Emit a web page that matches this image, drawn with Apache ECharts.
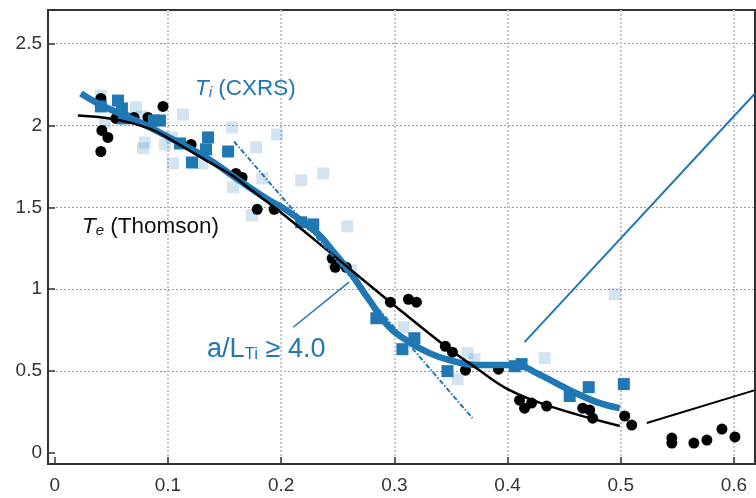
<!DOCTYPE html>
<html>
<head>
<meta charset="utf-8">
<script src="https://cdn.jsdelivr.net/npm/echarts@6/dist/echarts.min.js"></script>
<style>
  html, body { margin: 0; padding: 0; background: #fff; }
  #chart { width: 756px; height: 498px; }
</style>
</head>
<body>
<div id="chart"></div>
<script>
// axis ranges (normalised radius, keV)
const xRange = [-0.006, 0.6186]
const yRange = [-0.067, 2.705]

// Thomson scattering Te points
const teMeas = [
    [0.0407, 2.165], [0.0416, 1.970], [0.0469, 1.927], [0.0407, 1.841],
    [0.054, 2.043], [0.070, 2.049], [0.0823, 2.049], [0.0956, 2.116],
    [0.1204, 1.884], [0.160, 1.707], [0.1655, 1.683], [0.1788, 1.488],
    [0.1938, 1.488], [0.245, 1.189], [0.2478, 1.134], [0.2575, 1.134],
    [0.2965, 0.921], [0.3124, 0.939], [0.3195, 0.921], [0.345, 0.652],
    [0.3513, 0.616], [0.3628, 0.506], [0.392, 0.512], [0.4106, 0.323],
    [0.415, 0.274], [0.4212, 0.305], [0.4345, 0.287], [0.4664, 0.274],
    [0.4726, 0.262], [0.4752, 0.213], [0.5035, 0.226], [0.5097, 0.171],
    [0.5451, 0.091], [0.5451, 0.061], [0.5646, 0.061], [0.5761, 0.079],
    [0.5894, 0.146], [0.6009, 0.098],
]

// CXRS Ti points used in the fit
const tiMeas = [
    [0.0407, 2.116], [0.0558, 2.152], [0.0593, 2.104], [0.0611, 2.043],
    [0.0876, 2.030], [0.0929, 2.030], [0.1106, 1.890], [0.1212, 1.774],
    [0.1354, 1.927], [0.1336, 1.854], [0.1531, 1.841], [0.2177, 1.409],
    [0.2283, 1.396], [0.2841, 0.823], [0.3071, 0.634], [0.3177, 0.701],
    [0.3469, 0.500], [0.4062, 0.530], [0.4124, 0.543], [0.4549, 0.348],
    [0.4717, 0.402], [0.5027, 0.421],
]

// CXRS Ti points from other time slices (faint)
const tiFaint = [
    [0.0407, 2.183], [0.0442, 2.018], [0.0717, 2.110], [0.0770, 2.055],
    [0.0796, 1.896], [0.0779, 1.860], [0.0973, 1.884], [0.1035, 1.927],
    [0.1044, 1.768], [0.1133, 2.067], [0.1301, 1.768], [0.1566, 1.988],
    [0.1575, 1.622], [0.1779, 1.866], [0.1743, 1.451], [0.1832, 1.677],
    [0.1965, 1.945], [0.2177, 1.665], [0.2372, 1.707], [0.2584, 1.384],
    [0.2469, 1.165], [0.2619, 1.116], [0.3080, 0.768], [0.3558, 0.451],
    [0.3646, 0.610], [0.3708, 0.573], [0.4327, 0.579], [0.4947, 0.970],
]

// fitted profiles
const teFit = [
    [0.0204, 2.061], [0.054, 2.037], [0.0832, 1.982], [0.1035, 1.909],
    [0.1336, 1.787], [0.1566, 1.695], [0.1717, 1.616], [0.2009, 1.463],
    [0.2451, 1.213], [0.2965, 0.921], [0.3451, 0.652], [0.3726, 0.518],
    [0.4018, 0.384], [0.4398, 0.280], [0.4991, 0.165],
]
const tiFit = [
    [0.0230, 2.195], [0.0416, 2.122], [0.0717, 2.030], [0.1009, 1.927],
    [0.1336, 1.805], [0.1628, 1.665], [0.1894, 1.543], [0.2009, 1.500],
    [0.2310, 1.348], [0.2451, 1.238], [0.2602, 1.110], [0.2779, 0.933],
    [0.2956, 0.768], [0.3133, 0.677], [0.3310, 0.610], [0.3487, 0.567],
    [0.3726, 0.537], [0.4080, 0.537], [0.4257, 0.488], [0.4549, 0.384],
    [0.4788, 0.311], [0.4991, 0.274],
]

// gradient tangent and leader lines
const tiGradient = [[0.1584, 1.902], [0.369, 0.213]]
const gradLeader = [[0.2106, 0.768], [0.260, 1.043]]
const tiLeader = [[0.415, 0.677], [0.6186, 2.195]]
const teLeader = [[0.523, 0.183], [0.6186, 0.384]]

const blue = "#1f77b4"
const faint = "rgba(31,119,180,0.2)"
const fontFamily = "Liberation Sans"
const gridV = "#c8c8c8"
const gridH = "#999"
const none = "rgba(0,0,0,0)"

const chart = echarts.init(document.getElementById("chart"), null, { renderer: "canvas" })

const option = {
    animation: false,
    grid: {
        left: 48,
        right: 1,
        top: 10,
        bottom: 34,
        show: true,
        borderColor: "#333",
        borderWidth: 2,
    },
    xAxis: {
        type: "value",
        min: xRange[0],
        max: xRange[1],
        axisLine: { show: true, onZero: false, lineStyle: { color: "#333", width: 2 } },
        axisTick: { show: true, inside: true, length: 7, lineStyle: { color: "#333", width: 1.5 } },
        axisLabel: {
            showMinLabel: false,
            showMaxLabel: false,
            margin: 12,
            color: "#333",
            fontSize: 19,
            fontFamily,
        },
        splitLine: {
            show: true,
            lineStyle: {
                color: [none, none, gridV, gridV, gridV, gridV, gridV, gridV, none],
                width: 2,
                type: [2, 2],
            },
        },
    },
    yAxis: {
        type: "value",
        min: yRange[0],
        max: yRange[1],
        axisLine: { show: true, onZero: false, lineStyle: { color: "#333", width: 2 } },
        axisTick: { show: true, inside: true, length: 7, lineStyle: { color: "#333", width: 1.5 } },
        axisLabel: {
            showMinLabel: false,
            showMaxLabel: false,
            margin: 6,
            color: "#333",
            fontSize: 19,
            fontFamily,
        },
        splitLine: {
            show: true,
            lineStyle: {
                color: [none, none, gridH, gridH, gridH, gridH, gridH, none],
                width: 1,
                type: [2, 2],
            },
        },
    },
    series: [
        {
            type: "scatter",
            data: tiFaint,
            symbol: "rect",
            symbolSize: 12,
            itemStyle: { color: faint, opacity: 1 },
            z: 1,
        },
        {
            type: "scatter",
            data: teMeas,
            symbol: "circle",
            symbolSize: 11,
            itemStyle: { color: "#000", opacity: 1 },
            z: 2,
        },
        {
            type: "scatter",
            data: tiMeas,
            symbol: "rect",
            symbolSize: 12,
            itemStyle: { color: blue, opacity: 1 },
            z: 3,
        },
        {
            type: "line",
            data: tiFit,
            smooth: 0.4,
            showSymbol: false,
            lineStyle: { color: blue, width: 6.5 },
            z: 4,
        },
        {
            type: "line",
            data: teFit,
            smooth: 0.4,
            showSymbol: false,
            lineStyle: { color: "#000", width: 2.5 },
            z: 5,
        },
        {
            type: "line",
            data: tiGradient,
            showSymbol: false,
            lineStyle: { color: blue, width: 2, type: [5, 2, 1.5, 2] },
            z: 6,
        },
        {
            type: "line",
            data: gradLeader,
            showSymbol: false,
            lineStyle: { color: blue, width: 1.5 },
            z: 6,
        },
        {
            type: "line",
            data: tiLeader,
            showSymbol: false,
            lineStyle: { color: blue, width: 2 },
            z: 6,
        },
        {
            type: "line",
            data: teLeader,
            showSymbol: false,
            lineStyle: { color: "#000", width: 2 },
            z: 6,
        },
    ],
    graphic: [
        {
            type: "text",
            left: 195,
            top: 77,
            z: 10,
            style: {
                text: "{it|T}{sub|i}{txt| (CXRS)}",
                rich: {
                    it: { fontStyle: "italic", fontSize: 22.5, fontFamily, fill: blue, lineHeight: 25, verticalAlign: "bottom" },
                    sub: { fontStyle: "italic", fontSize: 15, fontFamily, fill: blue, lineHeight: 10, verticalAlign: "bottom" },
                    txt: { fontSize: 22.5, fontFamily, fill: blue, lineHeight: 25, verticalAlign: "bottom" },
                },
            },
        },
        {
            type: "text",
            left: 82,
            top: 215,
            z: 10,
            style: {
                text: "{it|T}{sub|e}{txt| (Thomson)}",
                rich: {
                    it: { fontStyle: "italic", fontSize: 22.5, fontFamily, fill: "#111", lineHeight: 25, verticalAlign: "bottom" },
                    sub: { fontStyle: "italic", fontSize: 15, fontFamily, fill: "#111", lineHeight: 10, verticalAlign: "bottom" },
                    txt: { fontSize: 22.5, fontFamily, fill: "#111", lineHeight: 25, verticalAlign: "bottom" },
                },
            },
        },
        {
            type: "text",
            left: 207,
            top: 336,
            z: 10,
            style: {
                text: "{txt|a/L}{sub|Ti}{txt| ≥ 4.0}",
                rich: {
                    txt: { fontSize: 27, fontFamily, fill: blue, lineHeight: 30, verticalAlign: "bottom" },
                    sub: { fontSize: 17, fontFamily, fill: blue, lineHeight: 14, verticalAlign: "bottom" },
                },
            },
        },
    ],
}

chart.setOption(option)
</script>
</body>
</html>
